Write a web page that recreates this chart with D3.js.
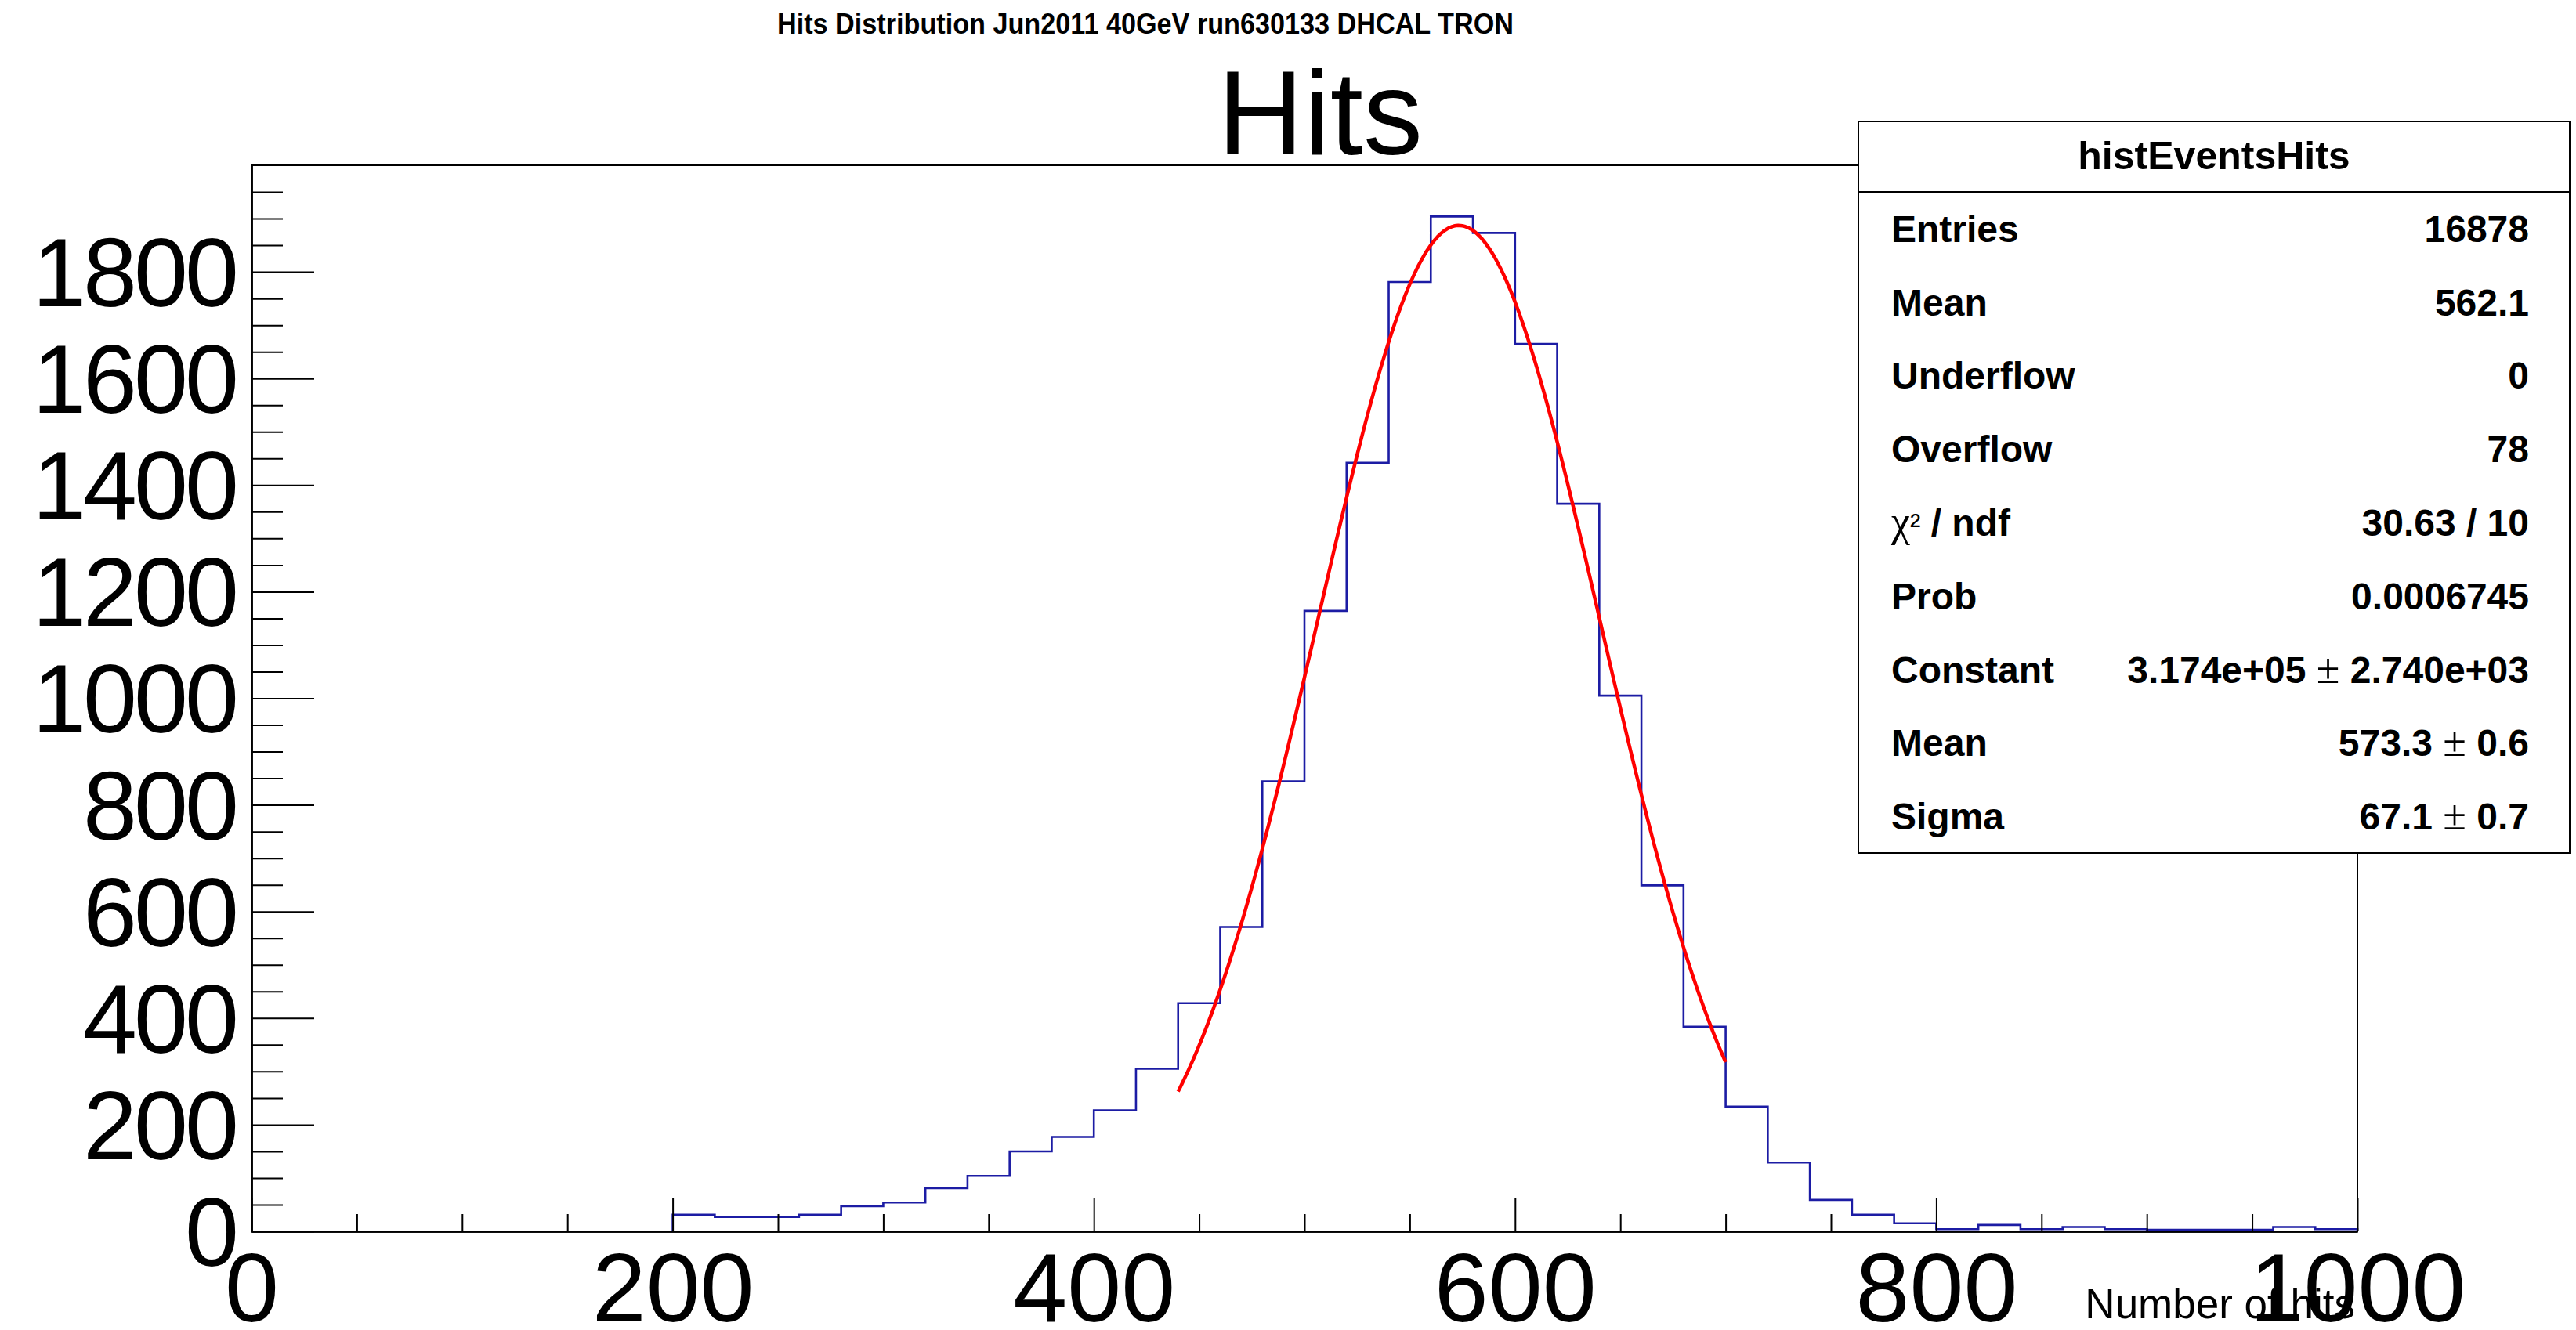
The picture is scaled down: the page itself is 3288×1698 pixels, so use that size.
<!DOCTYPE html>
<html>
<head>
<meta charset="utf-8">
<script src="https://cdn.jsdelivr.net/npm/d3@7"></script>
<style>
  html, body { margin: 0; padding: 0; background: #fff; }
  svg { display: block; }
</style>
</head>
<body>
<div id="chart"></div>
<script>
// Hits per event, 20-hit bins (low edges), run 630133
const binLowEdges = [200, 220, 240, 260, 280, 300, 320, 340, 360, 380,
                     400, 420, 440, 460, 480, 500, 520, 540, 560, 580,
                     600, 620, 640, 660, 680, 700, 720, 740, 760, 780,
                     800, 820, 840, 860, 880, 900, 920, 940, 960, 980];
const binCounts = [31, 27, 27, 31, 47, 54, 81, 104, 150, 177,
                   227, 305, 428, 571, 844, 1164, 1442, 1781, 1904, 1873,
                   1665, 1365, 1005, 649, 384, 234, 129, 59, 31, 15,
                   4, 12, 4, 8, 4, 3, 3, 3, 8, 4];
const binWidth = 20;

// Gaussian fit (normalised form) and its range
const fitConstant = 3.174e5;
const fitMean = 573.3;
const fitSigma = 67.1;
const fitRange = [440, 700];

// Axis ticks
const xMajorTicks = [0, 200, 400, 600, 800, 1000];
const yMajorTicks = [0, 200, 400, 600, 800, 1000, 1200, 1400, 1600, 1800];

// Statistics box
const statsTitle = "histEventsHits";
const statLabels = ["Entries", "Mean", "Underflow", "Overflow", "χ² / ndf", "Prob", "Constant", "Mean", "Sigma"];
const statValues = ["16878", "562.1", "0", "78", "30.63 / 10", "0.0006745", "3.174e+05 ± 2.740e+03", "573.3 ± 0.6", "67.1 ± 0.7"];

const W = 3288, H = 1698;
const frame = { left: 321, right: 3009, top: 211, bottom: 1572 };
const FONT = "'Liberation Sans', Arial, Helvetica, sans-serif";
const SERIF = "'Liberation Serif', 'Times New Roman', serif";

const svg = d3.select("#chart").append("svg")
  .attr("width", W).attr("height", H)
  .style("background", "#fff");

const x = d3.scaleLinear().domain([0, 1000]).range([frame.left, frame.right]);
const y = d3.scaleLinear().domain([0, 2000]).range([frame.bottom, frame.top]);

// Frame
svg.append("rect")
  .attr("x", frame.left).attr("y", frame.top)
  .attr("width", frame.right - frame.left).attr("height", frame.bottom - frame.top)
  .attr("fill", "none").attr("stroke", "#000").attr("stroke-width", 2);

// Histogram outline
const pts = [[binLowEdges[0], 0]];
binLowEdges.forEach((lo, i) => {
  pts.push([lo, binCounts[i]]);
  pts.push([lo + binWidth, binCounts[i]]);
});
pts.push([binLowEdges[binLowEdges.length - 1] + binWidth, 0]);

svg.append("path")
  .datum(pts)
  .attr("d", d3.line().x(d => x(d[0])).y(d => y(d[1])))
  .attr("fill", "none")
  .attr("stroke", "#1c1ca4")
  .attr("stroke-width", 2.6)
  .attr("stroke-linejoin", "miter");

// Fit curve
const gaus = v => fitConstant / (Math.sqrt(2 * Math.PI) * fitSigma) *
  Math.exp(-0.5 * Math.pow((v - fitMean) / fitSigma, 2));
const fitPts = d3.range(fitRange[0], fitRange[1] + 0.001, 1).map(v => [v, gaus(v)]);
svg.append("path")
  .datum(fitPts)
  .attr("d", d3.line().x(d => x(d[0])).y(d => y(d[1])))
  .attr("fill", "none")
  .attr("stroke", "#ff0000")
  .attr("stroke-width", 4.5)
  .attr("stroke-linejoin", "round");

// X axis: minor ticks then major ticks with labels
const xMinor = d3.range(0, 1001, 50).filter(v => !xMajorTicks.includes(v));
const gxMinor = svg.append("g").attr("transform", `translate(0,${frame.bottom})`)
  .call(d3.axisBottom(x).tickValues(xMinor).tickSizeInner(-22).tickSizeOuter(0).tickFormat(""));
const gx = svg.append("g").attr("transform", `translate(0,${frame.bottom})`)
  .call(d3.axisBottom(x).tickValues(xMajorTicks).tickSizeInner(-42).tickSizeOuter(0)
    .tickPadding(27).tickFormat(d3.format("d")));
[gxMinor, gx].forEach(g => {
  g.selectAll("line").attr("stroke", "#000").attr("stroke-width", 2);
  g.select(".domain").attr("stroke", "#000").attr("stroke-width", 2.5);
});
gx.selectAll("text")
  .attr("font-family", FONT).attr("font-size", 124).attr("fill", "#000");

// Y axis
const yMinor = d3.range(0, 2000, 50).filter(v => !yMajorTicks.includes(v));
const gyMinor = svg.append("g").attr("transform", `translate(${frame.left},0)`)
  .call(d3.axisLeft(y).tickValues(yMinor).tickSizeInner(-40).tickSizeOuter(0).tickFormat(""));
const gy = svg.append("g").attr("transform", `translate(${frame.left},0)`)
  .call(d3.axisLeft(y).tickValues(yMajorTicks).tickSizeInner(-80).tickSizeOuter(0)
    .tickPadding(20).tickFormat(d3.format("d")));
[gyMinor, gy].forEach(g => {
  g.selectAll("line").attr("stroke", "#000").attr("stroke-width", 2);
  g.select(".domain").attr("stroke", "#000").attr("stroke-width", 2.5);
});
gy.selectAll("text")
  .attr("font-family", FONT).attr("font-size", 124).attr("fill", "#000")
  .attr("letter-spacing", -4)
  .attr("dy", "0.35em");

// X axis title
svg.append("text")
  .attr("x", 3006).attr("y", 1683)
  .attr("text-anchor", "end")
  .attr("font-family", FONT).attr("font-size", 53)
  .text("Number of hits");

// Titles
svg.append("text")
  .attr("x", 1462).attr("y", 43)
  .attr("text-anchor", "middle")
  .attr("font-family", FONT).attr("font-weight", "bold").attr("font-size", 36)
  .attr("textLength", 940).attr("lengthAdjust", "spacingAndGlyphs")
  .text("Hits Distribution Jun2011 40GeV run630133 DHCAL TRON");

svg.append("text")
  .attr("x", 1685).attr("y", 197)
  .attr("text-anchor", "middle")
  .attr("font-family", FONT).attr("font-size", 152)
  .text("Hits");

// Statistics box
const box = { left: 2372, right: 3280, top: 155, bottom: 1089, header: 245 };
const gs = svg.append("g");
gs.append("rect")
  .attr("x", box.left).attr("y", box.top)
  .attr("width", box.right - box.left).attr("height", box.bottom - box.top)
  .attr("fill", "#fff").attr("stroke", "#000").attr("stroke-width", 2);
gs.append("line")
  .attr("x1", box.left).attr("x2", box.right)
  .attr("y1", box.header).attr("y2", box.header)
  .attr("stroke", "#000").attr("stroke-width", 2);
gs.append("text")
  .attr("x", (box.left + box.right) / 2).attr("y", 216)
  .attr("text-anchor", "middle")
  .attr("font-family", FONT).attr("font-weight", "bold").attr("font-size", 50)
  .text(statsTitle);

// Symbols such as χ, ² and ± are set in a lighter serif face
function richText(sel, str) {
  const parts = str.split(/([χ±²])/).filter(s => s.length);
  parts.forEach(p => {
    const t = sel.append("tspan").text(p);
    if (p === "χ" || p === "±") {
      t.attr("font-family", SERIF).attr("font-weight", "normal").attr("font-size", 54);
    } else if (p === "²") {
      t.attr("font-family", FONT).attr("font-weight", "normal").attr("font-size", 40);
    }
  });
}

const rowH = (box.bottom - box.header) / statLabels.length;
statLabels.forEach((lab, i) => {
  const yb = box.header + rowH * (i + 0.5) + 17;
  const tl = gs.append("text")
    .attr("x", 2414).attr("y", yb)
    .attr("font-family", FONT).attr("font-weight", "bold").attr("font-size", 48);
  richText(tl, lab);
  const tv = gs.append("text")
    .attr("x", 3228).attr("y", yb)
    .attr("text-anchor", "end")
    .attr("font-family", FONT).attr("font-weight", "bold").attr("font-size", 48)
    .attr("xml:space", "preserve");
  richText(tv, statValues[i]);
});
</script>
</body>
</html>
